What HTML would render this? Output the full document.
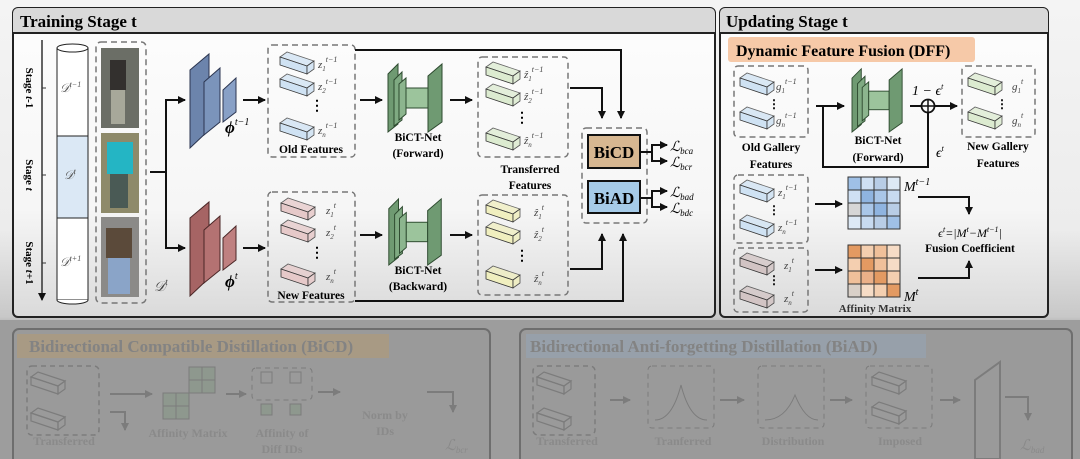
<!DOCTYPE html>
<html><head><meta charset="utf-8"><style>
html,body{margin:0;padding:0;background:#fff;}
svg{display:block;}
text{font-family:"Liberation Serif",serif;}
.b{font-weight:bold;}
.m{font-style:italic;}
</style></head><body>
<svg width="1080" height="459" viewBox="0 0 1080 459" xmlns="http://www.w3.org/2000/svg">
<defs>
<linearGradient id="bg" x1="0" y1="0" x2="0" y2="1">
<stop offset="0" stop-color="#f4f4f4"/><stop offset="0.5" stop-color="#ececec"/><stop offset="0.69" stop-color="#c8c8c8"/><stop offset="0.72" stop-color="#a0a0a0"/><stop offset="1" stop-color="#9a9a9a"/>
</linearGradient>
<linearGradient id="pan" x1="0" y1="0" x2="0" y2="1">
<stop offset="0" stop-color="#fdfdfd"/><stop offset="0.65" stop-color="#f6f6f6"/><stop offset="1" stop-color="#dadada"/>
</linearGradient>
<marker id="ar" markerWidth="8" markerHeight="8" refX="7" refY="4" orient="auto" markerUnits="userSpaceOnUse"><path d="M0,0 L8,4 L0,8 z" fill="#111"/></marker>
<marker id="ag" markerWidth="8" markerHeight="8" refX="7" refY="4" orient="auto" markerUnits="userSpaceOnUse"><path d="M0,0 L8,4 L0,8 z" fill="#7c7c7c"/></marker>
<symbol id="cube" viewBox="0 0 34 22" overflow="visible">
<polygon points="0,5 7,0 34,9 27,14" fill="currentColor" stroke="#333" stroke-width="0.8" opacity="0.75"/>
<polygon points="0,5 27,14 27,22 0,13" fill="currentColor" stroke="#333" stroke-width="0.8"/>
<polygon points="27,14 34,9 34,17 27,22" fill="currentColor" stroke="#333" stroke-width="0.8" opacity="0.85"/>
</symbol>
<symbol id="gcube" viewBox="0 0 34 22" overflow="visible">
<polygon points="0,5 7,0 34,9 27,14" fill="none" stroke="#7c7c7c" stroke-width="1.2"/>
<polygon points="0,5 27,14 27,22 0,13" fill="none" stroke="#7c7c7c" stroke-width="1.2"/>
<polygon points="27,14 34,9 34,17 27,22" fill="none" stroke="#7c7c7c" stroke-width="1.2"/>
</symbol>
<symbol id="bict" viewBox="0 0 60 70" overflow="visible">
<polygon points="2,12 12,2 12,62 2,70" fill="#6f9a72" stroke="#2d4a2f"/>
<polygon points="8,18 16,10 16,58 8,64" fill="#7faa82" stroke="#2d4a2f"/>
<polygon points="13,22 20,16 20,52 13,58" fill="#8cb58e" stroke="#2d4a2f"/>
<rect x="20" y="26" width="22" height="20" fill="#9cc49c" stroke="#2d4a2f"/>
<polygon points="42,14 56,2 56,60 42,70" fill="#6f9a72" stroke="#2d4a2f"/>
</symbol>
</defs>
<rect width="1080" height="459" fill="url(#bg)"/>

<!-- Training panel -->
<rect x="13" y="8" width="702" height="309" rx="5" fill="url(#pan)" stroke="#222" stroke-width="2"/>
<path d="M13,33 H715 V13 a5,5 0 0 0 -5,-5 H18 a5,5 0 0 0 -5,5 z" fill="#d9d9d9"/>
<line x1="13" y1="33" x2="715" y2="33" stroke="#222" stroke-width="2"/>
<text x="20" y="27" class="b" font-size="17">Training Stage t</text>

<line x1="42" y1="40" x2="42" y2="300" stroke="#333" stroke-width="1.5" marker-end="url(#ar)"/>
<line x1="42" y1="88" x2="46" y2="88" stroke="#333"/><line x1="42" y1="175" x2="46" y2="175" stroke="#333"/><line x1="42" y1="263" x2="46" y2="263" stroke="#333"/>
<text transform="translate(26,88) rotate(90)" class="b" font-size="11" text-anchor="middle">Stage <tspan class="m">t</tspan>-1</text>
<text transform="translate(26,175) rotate(90)" class="b" font-size="11" text-anchor="middle">Stage <tspan class="m">t</tspan></text>
<text transform="translate(26,263) rotate(90)" class="b" font-size="11" text-anchor="middle">Stage <tspan class="m">t</tspan>+1</text>

<rect x="57" y="48" width="31" height="88" fill="#fff" stroke="#222"/>
<rect x="57" y="136" width="31" height="82" fill="#dbe8f5" stroke="#222"/>
<rect x="57" y="218" width="31" height="82" fill="#fff" stroke="#222"/>
<ellipse cx="72.5" cy="48" rx="15.5" ry="4" fill="#fff" stroke="#222"/>
<path d="M57,300 a15.5,4 0 0 0 31,0" fill="#fff" stroke="#222"/>
<text x="60" y="92" class="m" font-size="12" fill="#555">𝒟<tspan font-size="8" dy="-5">t−1</tspan></text>
<text x="64" y="179" class="m" font-size="12" fill="#555">𝒟<tspan font-size="8" dy="-5">t</tspan></text>
<text x="60" y="266" class="m" font-size="12" fill="#555">𝒟<tspan font-size="8" dy="-5">t+1</tspan></text>

<rect x="96" y="42" width="50" height="261" rx="5" fill="none" stroke="#777" stroke-width="1.5" stroke-dasharray="6,4"/>
<rect x="101" y="48" width="38" height="80" fill="#6b6e66"/><rect x="110" y="60" width="16" height="30" fill="#33302e"/><rect x="111" y="90" width="14" height="34" fill="#a7a89a"/>
<rect x="101" y="133" width="38" height="80" fill="#8e8a6a"/><rect x="107" y="142" width="26" height="32" fill="#24b5c4"/><rect x="110" y="174" width="18" height="34" fill="#4a5a55"/>
<rect x="101" y="217" width="38" height="80" fill="#8b8a88"/><rect x="106" y="228" width="26" height="30" fill="#5b4a3a"/><rect x="108" y="258" width="22" height="36" fill="#8aa4c8"/>
<text x="154" y="291" class="m" font-size="14" fill="#444">𝒟<tspan font-size="9" dy="-6">t</tspan></text>

<polyline points="150,172 166,172" fill="none" stroke="#111" stroke-width="2"/>
<polyline points="166,248 166,100 185,100" fill="none" stroke="#111" stroke-width="2" marker-end="url(#ar)"/>
<polyline points="166,172 166,248 185,248" fill="none" stroke="#111" stroke-width="2" marker-end="url(#ar)"/>

<polygon points="190,70 209,54 209,130 190,148" fill="#6c84ac" stroke="#2b3550"/>
<polygon points="204,82 220,68 220,122 204,135" fill="#7b94bb" stroke="#2b3550"/>
<polygon points="223,90 236,78 236,112 223,122" fill="#88a0c6" stroke="#2b3550"/>
<text x="225" y="133" class="b m" font-size="17">ϕ<tspan font-size="10" dy="-8" font-weight="normal">t−1</tspan></text>
<polygon points="190,218 209,202 209,278 190,296" fill="#a66464" stroke="#4a2626"/>
<polygon points="204,230 220,216 220,270 204,283" fill="#b47272" stroke="#4a2626"/>
<polygon points="223,238 236,226 236,260 223,270" fill="#bf8080" stroke="#4a2626"/>
<text x="225" y="287" class="b m" font-size="17">ϕ<tspan font-size="10" dy="-8" font-weight="normal">t</tspan></text>
<line x1="243" y1="100" x2="265" y2="100" stroke="#111" stroke-width="2" marker-end="url(#ar)"/>
<line x1="243" y1="248" x2="265" y2="248" stroke="#111" stroke-width="2" marker-end="url(#ar)"/>

<rect x="268" y="45" width="87" height="112" rx="4" fill="none" stroke="#777" stroke-width="1.5" stroke-dasharray="6,4"/>
<use href="#cube" x="280" y="52" width="34" height="22" color="#cfe2f3"/>
<use href="#cube" x="280" y="74" width="34" height="22" color="#cfe2f3"/>
<use href="#cube" x="280" y="118" width="34" height="22" color="#cfe2f3"/>
<text x="310" y="110" font-size="14" class="b">⋮</text>
<text x="318" y="68" class="m" font-size="11" fill="#444">z<tspan font-size="7" dy="3">1</tspan><tspan font-size="8" dy="-9">t−1</tspan></text>
<text x="318" y="90" class="m" font-size="11" fill="#444">z<tspan font-size="7" dy="3">2</tspan><tspan font-size="8" dy="-9">t−1</tspan></text>
<text x="318" y="134" class="m" font-size="11" fill="#444">z<tspan font-size="7" dy="3">n</tspan><tspan font-size="8" dy="-9">t−1</tspan></text>
<text x="311" y="153" class="b" font-size="11.5" text-anchor="middle">Old Features</text>

<rect x="268" y="192" width="87" height="110" rx="4" fill="none" stroke="#777" stroke-width="1.5" stroke-dasharray="6,4"/>
<use href="#cube" x="281" y="198" width="34" height="22" color="#e6c9c9"/>
<use href="#cube" x="281" y="220" width="34" height="22" color="#e6c9c9"/>
<use href="#cube" x="281" y="264" width="34" height="22" color="#e6c9c9"/>
<text x="310" y="257" font-size="14" class="b">⋮</text>
<text x="326" y="214" class="m" font-size="11" fill="#444">z<tspan font-size="7" dy="3">1</tspan><tspan font-size="8" dy="-9">t</tspan></text>
<text x="326" y="236" class="m" font-size="11" fill="#444">z<tspan font-size="7" dy="3">2</tspan><tspan font-size="8" dy="-9">t</tspan></text>
<text x="326" y="280" class="m" font-size="11" fill="#444">z<tspan font-size="7" dy="3">n</tspan><tspan font-size="8" dy="-9">t</tspan></text>
<text x="311" y="299" class="b" font-size="11.5" text-anchor="middle">New Features</text>

<line x1="360" y1="100" x2="382" y2="100" stroke="#111" stroke-width="2" marker-end="url(#ar)"/>
<use href="#bict" x="386" y="62" width="60" height="70"/>
<text x="418" y="141" class="b" font-size="11.5" text-anchor="middle">BiCT-Net</text>
<text x="418" y="157" class="b" font-size="11.5" text-anchor="middle">(Forward)</text>
<line x1="450" y1="100" x2="472" y2="100" stroke="#111" stroke-width="2" marker-end="url(#ar)"/>
<line x1="360" y1="235" x2="382" y2="235" stroke="#111" stroke-width="2" marker-end="url(#ar)"/>
<use href="#bict" x="386" y="197" width="60" height="68"/>
<text x="418" y="274" class="b" font-size="11.5" text-anchor="middle">BiCT-Net</text>
<text x="418" y="290" class="b" font-size="11.5" text-anchor="middle">(Backward)</text>
<line x1="450" y1="235" x2="472" y2="235" stroke="#111" stroke-width="2" marker-end="url(#ar)"/>

<rect x="478" y="57" width="90" height="100" rx="4" fill="none" stroke="#777" stroke-width="1.5" stroke-dasharray="6,4"/>
<use href="#cube" x="486" y="62" width="34" height="22" color="#dcebd0"/>
<use href="#cube" x="486" y="84" width="34" height="22" color="#dcebd0"/>
<use href="#cube" x="486" y="128" width="34" height="22" color="#dcebd0"/>
<text x="515" y="122" font-size="14" class="b">⋮</text>
<text x="524" y="78" class="m" font-size="11" fill="#444">ẑ<tspan font-size="7" dy="3">1</tspan><tspan font-size="8" dy="-9">t−1</tspan></text>
<text x="524" y="100" class="m" font-size="11" fill="#444">ẑ<tspan font-size="7" dy="3">2</tspan><tspan font-size="8" dy="-9">t−1</tspan></text>
<text x="524" y="144" class="m" font-size="11" fill="#444">ẑ<tspan font-size="7" dy="3">n</tspan><tspan font-size="8" dy="-9">t−1</tspan></text>
<text x="530" y="173" class="b" font-size="11.5" text-anchor="middle">Transferred</text>
<text x="530" y="189" class="b" font-size="11.5" text-anchor="middle">Features</text>
<rect x="478" y="195" width="90" height="100" rx="4" fill="none" stroke="#777" stroke-width="1.5" stroke-dasharray="6,4"/>
<use href="#cube" x="486" y="200" width="34" height="22" color="#f0efbf"/>
<use href="#cube" x="486" y="222" width="34" height="22" color="#f0efbf"/>
<use href="#cube" x="486" y="266" width="34" height="22" color="#f0efbf"/>
<text x="515" y="260" font-size="14" class="b">⋮</text>
<text x="534" y="216" class="m" font-size="11" fill="#444">ẑ<tspan font-size="7" dy="3">1</tspan><tspan font-size="8" dy="-9">t</tspan></text>
<text x="534" y="238" class="m" font-size="11" fill="#444">ẑ<tspan font-size="7" dy="3">2</tspan><tspan font-size="8" dy="-9">t</tspan></text>
<text x="534" y="282" class="m" font-size="11" fill="#444">ẑ<tspan font-size="7" dy="3">n</tspan><tspan font-size="8" dy="-9">t</tspan></text>

<polyline points="355,50 621,50 621,118" fill="none" stroke="#111" stroke-width="2" marker-end="url(#ar)"/>
<polyline points="570,88 602,88 602,118" fill="none" stroke="#111" stroke-width="2" marker-end="url(#ar)"/>
<polyline points="355,301 623,301 623,234" fill="none" stroke="#111" stroke-width="2" marker-end="url(#ar)"/>
<polyline points="570,269 602,269 602,234" fill="none" stroke="#111" stroke-width="2" marker-end="url(#ar)"/>
<rect x="582" y="128" width="65" height="95" rx="4" fill="none" stroke="#777" stroke-width="1.5" stroke-dasharray="6,4"/>
<rect x="588" y="135" width="52" height="33" fill="#d7b791" stroke="#111" stroke-width="2"/>
<text x="614" y="158" class="b" font-size="17" text-anchor="middle">BiCD</text>
<rect x="588" y="181" width="52" height="32" fill="#a6cbe8" stroke="#111" stroke-width="2"/>
<text x="614" y="204" class="b" font-size="17" text-anchor="middle">BiAD</text>
<polyline points="640,152 652,152 652,145 667,145" fill="none" stroke="#111" stroke-width="2" marker-end="url(#ar)"/>
<polyline points="652,152 652,161 667,161" fill="none" stroke="#111" stroke-width="2" marker-end="url(#ar)"/>
<polyline points="640,198 652,198 652,191 667,191" fill="none" stroke="#111" stroke-width="2" marker-end="url(#ar)"/>
<polyline points="652,198 652,207 667,207" fill="none" stroke="#111" stroke-width="2" marker-end="url(#ar)"/>
<text x="670" y="151" class="m" font-size="14">ℒ<tspan font-size="9" dy="3">bca</tspan></text>
<text x="670" y="167" class="m" font-size="14">ℒ<tspan font-size="9" dy="3">bcr</tspan></text>
<text x="670" y="197" class="m" font-size="14">ℒ<tspan font-size="9" dy="3">bad</tspan></text>
<text x="670" y="213" class="m" font-size="14">ℒ<tspan font-size="9" dy="3">bdc</tspan></text>

<!-- Updating panel -->
<rect x="720" y="8" width="328" height="309" rx="5" fill="url(#pan)" stroke="#222" stroke-width="2"/>
<path d="M720,33 H1048 V13 a5,5 0 0 0 -5,-5 H725 a5,5 0 0 0 -5,5 z" fill="#d9d9d9"/>
<line x1="720" y1="33" x2="1048" y2="33" stroke="#222" stroke-width="2"/>
<text x="726" y="27" class="b" font-size="17">Updating Stage t</text>
<rect x="728" y="37" width="247" height="25" rx="3" fill="#f6c9a8"/>
<text x="736" y="56" class="b" font-size="16">Dynamic Feature Fusion (DFF)</text>

<rect x="734" y="66" width="74" height="71" rx="4" fill="none" stroke="#777" stroke-width="1.5" stroke-dasharray="6,4"/>
<use href="#cube" x="740" y="73" width="34" height="22" color="#cfe2f3"/>
<use href="#cube" x="740" y="107" width="34" height="22" color="#cfe2f3"/>
<text x="768" y="108" font-size="12" class="b">⋮</text>
<text x="776" y="90" class="m" font-size="11" fill="#444">g<tspan font-size="7" dy="3">1</tspan><tspan font-size="8" dy="-9">t−1</tspan></text>
<text x="776" y="124" class="m" font-size="11" fill="#444">g<tspan font-size="7" dy="3">n</tspan><tspan font-size="8" dy="-9">t−1</tspan></text>
<text x="771" y="151" class="b" font-size="11.5" text-anchor="middle">Old Gallery</text>
<text x="771" y="168" class="b" font-size="11.5" text-anchor="middle">Features</text>

<line x1="816" y1="106" x2="844" y2="106" stroke="#111" stroke-width="2" marker-end="url(#ar)"/>
<polyline points="928,113 928,167 823,167 823,106" fill="none" stroke="#111" stroke-width="2"/>
<use href="#bict" x="848" y="67" width="60" height="65"/>
<text x="878" y="144" class="b" font-size="11.5" text-anchor="middle">BiCT-Net</text>
<text x="878" y="161" class="b" font-size="11.5" text-anchor="middle">(Forward)</text>
<line x1="910" y1="106" x2="921" y2="106" stroke="#111" stroke-width="2"/>
<circle cx="928" cy="106" r="6.5" fill="none" stroke="#111" stroke-width="1.8"/>
<line x1="921.5" y1="106" x2="934.5" y2="106" stroke="#111" stroke-width="1.5"/><line x1="928" y1="99.5" x2="928" y2="112.5" stroke="#111" stroke-width="1.5"/>
<line x1="935" y1="106" x2="957" y2="106" stroke="#111" stroke-width="2" marker-end="url(#ar)"/>
<text x="912" y="95" font-size="14" class="m">1 − ϵ<tspan font-size="8" dy="-6">t</tspan></text>
<text x="936" y="157" font-size="14" class="m">ϵ<tspan font-size="8" dy="-6">t</tspan></text>

<rect x="962" y="66" width="73" height="71" rx="4" fill="none" stroke="#777" stroke-width="1.5" stroke-dasharray="6,4"/>
<use href="#cube" x="968" y="73" width="34" height="22" color="#dcebd0"/>
<use href="#cube" x="968" y="107" width="34" height="22" color="#dcebd0"/>
<text x="996" y="108" font-size="12" class="b">⋮</text>
<text x="1012" y="90" class="m" font-size="11" fill="#444">g<tspan font-size="7" dy="3">1</tspan><tspan font-size="8" dy="-9">t</tspan></text>
<text x="1012" y="124" class="m" font-size="11" fill="#444">g<tspan font-size="7" dy="3">n</tspan><tspan font-size="8" dy="-9">t</tspan></text>
<text x="998" y="150" class="b" font-size="11.5" text-anchor="middle">New Gallery</text>
<text x="998" y="167" class="b" font-size="11.5" text-anchor="middle">Features</text>

<rect x="734" y="175" width="74" height="68" rx="4" fill="none" stroke="#777" stroke-width="1.5" stroke-dasharray="6,4"/>
<use href="#cube" x="740" y="180" width="34" height="22" color="#cfe2f3"/>
<use href="#cube" x="740" y="215" width="34" height="22" color="#cfe2f3"/>
<text x="768" y="214" font-size="12" class="b">⋮</text>
<text x="778" y="196" class="m" font-size="11" fill="#444">z<tspan font-size="7" dy="3">1</tspan><tspan font-size="8" dy="-9">t−1</tspan></text>
<text x="778" y="231" class="m" font-size="11" fill="#444">z<tspan font-size="7" dy="3">n</tspan><tspan font-size="8" dy="-9">t−1</tspan></text>
<rect x="734" y="248" width="74" height="64" rx="4" fill="none" stroke="#777" stroke-width="1.5" stroke-dasharray="6,4"/>
<use href="#cube" x="740" y="253" width="34" height="22" color="#d2c4c4"/>
<use href="#cube" x="740" y="286" width="34" height="22" color="#d2c4c4"/>
<text x="768" y="284" font-size="12" class="b">⋮</text>
<text x="784" y="269" class="m" font-size="11" fill="#444">z<tspan font-size="7" dy="3">1</tspan><tspan font-size="8" dy="-9">t</tspan></text>
<text x="784" y="302" class="m" font-size="11" fill="#444">z<tspan font-size="7" dy="3">n</tspan><tspan font-size="8" dy="-9">t</tspan></text>

<line x1="815" y1="204" x2="842" y2="204" stroke="#111" stroke-width="2" marker-end="url(#ar)"/>
<line x1="815" y1="270" x2="842" y2="270" stroke="#111" stroke-width="2" marker-end="url(#ar)"/>
<g stroke="#333" stroke-width="1">
<rect x="848" y="177" width="13" height="13" fill="#9fc0e6"/><rect x="861" y="177" width="13" height="13" fill="#cfe0f3"/><rect x="874" y="177" width="13" height="13" fill="#b8cde6"/><rect x="887" y="177" width="13" height="13" fill="#dde9f5"/>
<rect x="848" y="190" width="13" height="13" fill="#cfe0f3"/><rect x="861" y="190" width="13" height="13" fill="#8fb4e0"/><rect x="874" y="190" width="13" height="13" fill="#a9c6e8"/><rect x="887" y="190" width="13" height="13" fill="#c7daf0"/>
<rect x="848" y="203" width="13" height="13" fill="#d6d6d6"/><rect x="861" y="203" width="13" height="13" fill="#a9c6e8"/><rect x="874" y="203" width="13" height="13" fill="#8fb4e0"/><rect x="887" y="203" width="13" height="13" fill="#b8cde6"/>
<rect x="848" y="216" width="13" height="13" fill="#dde9f5"/><rect x="861" y="216" width="13" height="13" fill="#c7daf0"/><rect x="874" y="216" width="13" height="13" fill="#b8cde6"/><rect x="887" y="216" width="13" height="13" fill="#9fc0e6"/>
<rect x="848" y="245" width="13" height="13" fill="#e39a62"/><rect x="861" y="245" width="13" height="13" fill="#f4cfb0"/><rect x="874" y="245" width="13" height="13" fill="#f0c09a"/><rect x="887" y="245" width="13" height="13" fill="#f6dcc6"/>
<rect x="848" y="258" width="13" height="13" fill="#f4cfb0"/><rect x="861" y="258" width="13" height="13" fill="#e39a62"/><rect x="874" y="258" width="13" height="13" fill="#f0c09a"/><rect x="887" y="258" width="13" height="13" fill="#f6dcc6"/>
<rect x="848" y="271" width="13" height="13" fill="#f0c09a"/><rect x="861" y="271" width="13" height="13" fill="#ebb088"/><rect x="874" y="271" width="13" height="13" fill="#e39a62"/><rect x="887" y="271" width="13" height="13" fill="#f4cfb0"/>
<rect x="848" y="284" width="13" height="13" fill="#d9d0c8"/><rect x="861" y="284" width="13" height="13" fill="#f6dcc6"/><rect x="874" y="284" width="13" height="13" fill="#f4cfb0"/><rect x="887" y="284" width="13" height="13" fill="#e39a62"/>
</g>
<text x="904" y="191" class="m" font-size="14">M<tspan font-size="10" dy="-6">t−1</tspan></text>
<text x="904" y="301" class="m" font-size="14">M<tspan font-size="10" dy="-6">t</tspan></text>
<text x="875" y="312" class="b" font-size="11" text-anchor="middle" fill="#333">Affinity Matrix</text>
<polyline points="918,197 969,197 969,214" fill="none" stroke="#111" stroke-width="2" marker-end="url(#ar)"/>
<polyline points="918,278 969,278 969,261" fill="none" stroke="#111" stroke-width="2" marker-end="url(#ar)"/>
<text x="970" y="237" class="m" font-size="12" text-anchor="middle">ϵ<tspan font-size="8" dy="-5">t</tspan><tspan dy="5">=|M</tspan><tspan font-size="8" dy="-5">t</tspan><tspan dy="5">−M</tspan><tspan font-size="8" dy="-5">t−1</tspan><tspan dy="5">|</tspan></text>
<text x="970" y="252" class="b" font-size="11.5" text-anchor="middle">Fusion Coefficient</text>

<!-- bottom faded panels -->
<rect x="0" y="320" width="1080" height="139" fill="#9d9d9d"/>
<rect x="13" y="329" width="477" height="140" rx="6" fill="#9a9a9a" stroke="#6e6e6e" stroke-width="2"/>
<rect x="17" y="334" width="372" height="24" fill="#a89a84"/>
<text x="29" y="352" font-size="17" class="b" fill="#838383">Bidirectional Compatible Distillation (BiCD)</text>
<rect x="27" y="366" width="72" height="69" rx="5" fill="none" stroke="#7c7c7c" stroke-width="1.5" stroke-dasharray="5,4"/>
<use href="#gcube" x="31" y="372" width="34" height="22"/>
<use href="#gcube" x="31" y="408" width="34" height="22"/>
<line x1="110" y1="394" x2="152" y2="394" stroke="#7c7c7c" stroke-width="2" marker-end="url(#ag)"/>
<polyline points="110,412 125,412 125,430" fill="none" stroke="#7c7c7c" stroke-width="2" marker-end="url(#ag)"/>
<g fill="#8e988e" stroke="#7c7c7c"><rect x="163" y="393" width="13" height="13"/><rect x="176" y="393" width="13" height="13"/><rect x="163" y="406" width="13" height="13"/><rect x="176" y="406" width="13" height="13"/>
<rect x="189" y="367" width="13" height="13"/><rect x="202" y="367" width="13" height="13"/><rect x="189" y="380" width="13" height="13"/><rect x="202" y="380" width="13" height="13"/></g>
<line x1="226" y1="394" x2="246" y2="394" stroke="#7c7c7c" stroke-width="2" marker-end="url(#ag)"/>
<rect x="252" y="368" width="60" height="32" rx="4" fill="none" stroke="#7c7c7c" stroke-dasharray="5,4"/>
<rect x="261" y="372" width="11" height="11" fill="none" stroke="#7c7c7c"/><rect x="290" y="372" width="11" height="11" fill="none" stroke="#7c7c7c"/>
<rect x="261" y="404" width="11" height="11" fill="#8e988e" stroke="#7c7c7c"/><rect x="290" y="404" width="11" height="11" fill="#8e988e" stroke="#7c7c7c"/>
<line x1="318" y1="392" x2="340" y2="392" stroke="#7c7c7c" stroke-width="2" marker-end="url(#ag)"/>
<polyline points="427,392 453,392 453,412" fill="none" stroke="#7c7c7c" stroke-width="2" marker-end="url(#ag)"/>
<text x="188" y="437" font-size="12" class="b" fill="#8a8a8a" text-anchor="middle">Affinity Matrix</text>
<text x="282" y="437" font-size="12" class="b" fill="#8a8a8a" text-anchor="middle">Affinity of</text>
<text x="282" y="453" font-size="12" class="b" fill="#8a8a8a" text-anchor="middle">Diff IDs</text>
<text x="385" y="419" font-size="12" class="b" fill="#8a8a8a" text-anchor="middle">Norm by</text>
<text x="385" y="435" font-size="12" class="b" fill="#8a8a8a" text-anchor="middle">IDs</text>
<text x="445" y="450" font-size="15" class="m" fill="#8a8a8a">ℒ<tspan font-size="9" dy="3">bcr</tspan></text>
<text x="64" y="445" font-size="12" class="b" fill="#8a8a8a" text-anchor="middle">Transferred</text>

<rect x="520" y="329" width="552" height="140" rx="6" fill="#9a9a9a" stroke="#6e6e6e" stroke-width="2"/>
<rect x="526" y="334" width="400" height="24" fill="#97a0aa"/>
<text x="530" y="352" font-size="17" class="b" fill="#838383">Bidirectional Anti-forgetting Distillation (BiAD)</text>
<rect x="533" y="366" width="62" height="69" rx="5" fill="none" stroke="#7c7c7c" stroke-width="1.5" stroke-dasharray="5,4"/>
<use href="#gcube" x="537" y="372" width="34" height="22"/>
<use href="#gcube" x="537" y="408" width="34" height="22"/>
<line x1="610" y1="400" x2="630" y2="400" stroke="#7c7c7c" stroke-width="2" marker-end="url(#ag)"/>
<rect x="648" y="366" width="66" height="62" rx="4" fill="none" stroke="#7c7c7c" stroke-dasharray="5,4"/>
<path d="M655,420 Q672,420 681,385 Q690,420 707,420" fill="none" stroke="#7c7c7c"/>
<line x1="720" y1="400" x2="744" y2="400" stroke="#7c7c7c" stroke-width="2" marker-end="url(#ag)"/>
<rect x="758" y="366" width="66" height="62" rx="4" fill="none" stroke="#7c7c7c" stroke-dasharray="5,4"/>
<path d="M765,420 Q785,420 795,395 Q805,420 818,420" fill="none" stroke="#7c7c7c"/>
<line x1="830" y1="400" x2="852" y2="400" stroke="#7c7c7c" stroke-width="2" marker-end="url(#ag)"/>
<rect x="866" y="366" width="66" height="62" rx="4" fill="none" stroke="#7c7c7c" stroke-dasharray="5,4"/>
<use href="#gcube" x="872" y="372" width="34" height="22"/>
<use href="#gcube" x="872" y="402" width="34" height="22"/>
<line x1="940" y1="400" x2="960" y2="400" stroke="#7c7c7c" stroke-width="2" marker-end="url(#ag)"/>
<polygon points="975,380 1000,362 1000,459 975,459" fill="none" stroke="#7c7c7c" stroke-width="2"/>
<polyline points="1005,397 1028,397 1028,420" fill="none" stroke="#7c7c7c" stroke-width="2" marker-end="url(#ag)"/>
<text x="1020" y="450" font-size="15" class="m" fill="#8a8a8a">ℒ<tspan font-size="9" dy="3">bad</tspan></text>
<text x="567" y="445" font-size="12" class="b" fill="#8a8a8a" text-anchor="middle">Transferred</text>
<text x="683" y="445" font-size="12" class="b" fill="#8a8a8a" text-anchor="middle">Tranferred</text>
<text x="793" y="445" font-size="12" class="b" fill="#8a8a8a" text-anchor="middle">Distribution</text>
<text x="900" y="445" font-size="12" class="b" fill="#8a8a8a" text-anchor="middle">Imposed</text>
</svg>
</body></html>
